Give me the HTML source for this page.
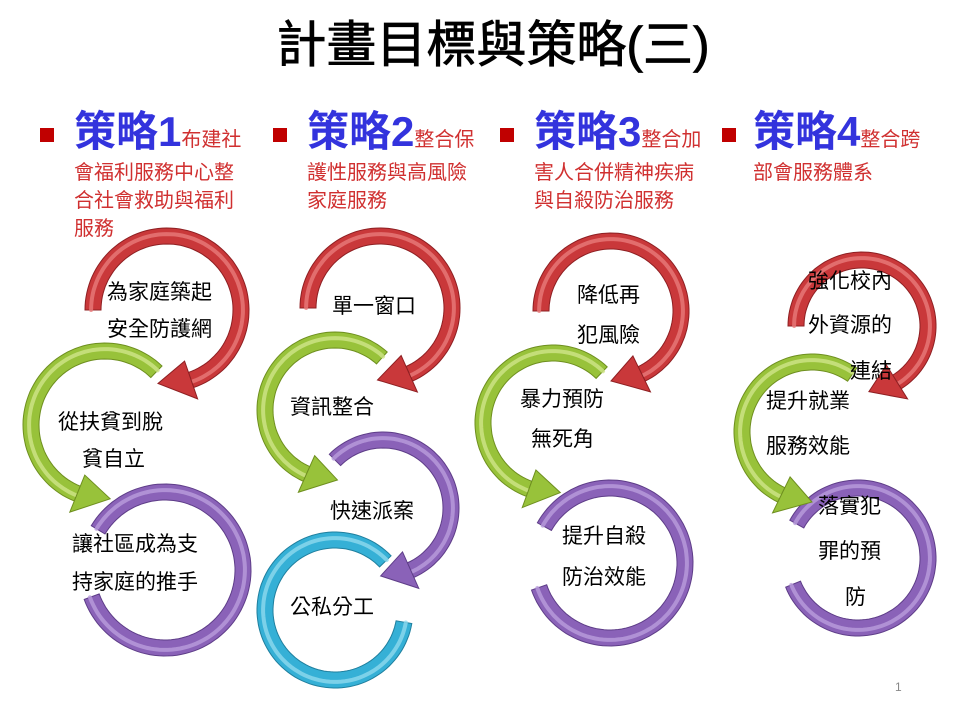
<!DOCTYPE html>
<html><head><meta charset="utf-8">
<style>
html,body{margin:0;padding:0;background:#fff;}
body{width:960px;height:720px;position:relative;overflow:hidden;font-family:"Liberation Sans","Noto Sans CJK TC",sans-serif;}
.t{position:absolute;white-space:nowrap;}
.title{left:0;width:986px;text-align:center;top:15px;font-size:50px;color:#000;line-height:60px;-webkit-text-stroke:0.8px #000;}
.sq{position:absolute;width:14px;height:14px;background:#c00000;top:128px;}
.h{position:absolute;top:108px;white-space:nowrap;color:#3333dd;font-size:42px;line-height:48px;font-weight:bold;}
.h span{color:#d03030;font-size:20px;font-weight:normal;}
.sub{position:absolute;color:#d03030;font-size:20px;line-height:28px;white-space:nowrap;top:159px;}
.n{position:absolute;font-size:21px;line-height:24px;color:#000;white-space:nowrap;}
svg{position:absolute;left:0;top:0;}
</style></head><body>
<svg id="s" width="960" height="720" viewBox="0 0 960 720"></svg>
<div class="t title">計畫目標與策略(三)</div>

<div class="sq" style="left:40px"></div>
<div class="h" style="left:74px">策略1<span>布建社</span></div>
<div class="sub" style="left:74px">會福利服務中心整<br>合社會救助與福利<br>服務</div>

<div class="sq" style="left:273px"></div>
<div class="h" style="left:307px">策略2<span>整合保</span></div>
<div class="sub" style="left:307px">護性服務與高風險<br>家庭服務</div>

<div class="sq" style="left:500px"></div>
<div class="h" style="left:534px">策略3<span>整合加</span></div>
<div class="sub" style="left:534px">害人合併精神疾病<br>與自殺防治服務</div>

<div class="sq" style="left:722px"></div>
<div class="h" style="left:753px">策略4<span>整合跨</span></div>
<div class="sub" style="left:753px">部會服務體系</div>

<div class="n" style="left:107px;top:281px">為家庭築起</div>
<div class="n" style="left:107px;top:318px">安全防護網</div>
<div class="n" style="left:58px;top:411px">從扶貧到脫</div>
<div class="n" style="left:82px;top:448px">貧自立</div>
<div class="n" style="left:72px;top:533px">讓社區成為支</div>
<div class="n" style="left:72px;top:571px">持家庭的推手</div>

<div class="n" style="left:332px;top:295px">單一窗口</div>
<div class="n" style="left:290px;top:396px">資訊整合</div>
<div class="n" style="left:330px;top:500px">快速派案</div>
<div class="n" style="left:290px;top:596px">公私分工</div>

<div class="n" style="left:577px;top:284px">降低再</div>
<div class="n" style="left:577px;top:324px">犯風險</div>
<div class="n" style="left:520px;top:388px">暴力預防</div>
<div class="n" style="left:531px;top:428px">無死角</div>
<div class="n" style="left:562px;top:525px">提升自殺</div>
<div class="n" style="left:562px;top:566px">防治效能</div>

<div class="n" style="left:808px;top:270px">強化校內</div>
<div class="n" style="left:808px;top:314px">外資源的</div>
<div class="n" style="left:850px;top:360px">連結</div>
<div class="n" style="left:766px;top:390px">提升就業</div>
<div class="n" style="left:766px;top:435px">服務效能</div>
<div class="n" style="left:818px;top:495px">落實犯</div>
<div class="n" style="left:818px;top:540px">罪的預</div>
<div class="n" style="left:845px;top:586px">防</div>

<div class="t" style="left:895px;top:680px;font-size:12px;color:#888">1</div>

<script>
var C={red:['#c9383a','#e87a7a','#8e1f22'],green:['#98c23a','#cfe58a','#6e8f1f'],purple:['#8a62b8','#b99ddc','#5e3d88'],blue:['#35b0d6','#8fd9ee','#1f7f9e']};
var svg=document.getElementById('s');var out='';
function P(cx,cy,r,a){a=a*Math.PI/180;return [cx+r*Math.cos(a),cy+r*Math.sin(a)];}
function pts(cx,cy,r,a0,a1){var s=[],n=Math.max(8,Math.ceil(Math.abs(a1-a0)/3));for(var i=0;i<=n;i++){var p=P(cx,cy,r,a0+(a1-a0)*i/n);s.push(p[0].toFixed(1)+','+p[1].toFixed(1));}return s;}
function arrow(cx,cy,R,w,a0,a1,dir,head,col){
  var c=C[col],hd=head?26:0;var aB=a1-dir*hd;
  var o=pts(cx,cy,R+w/2,a0,aB),i=pts(cx,cy,R-w/2,aB,a0);
  out+='<polygon points="'+o.concat(i).join(' ')+'" fill="'+c[0]+'" stroke="'+c[2]+'" stroke-width="1"/>';
  var m=pts(cx,cy,R+w*0.12,a0,aB);
  out+='<polyline points="'+m.join(' ')+'" fill="none" stroke="'+c[1]+'" stroke-width="4" stroke-linecap="round" opacity="0.8"/>';
  if(head){var hw=w*1.25;var b1=P(cx,cy,R+hw,aB),b2=P(cx,cy,R-hw,aB),t=P(cx,cy,R,a1);
    out+='<polygon points="'+b1.join(',')+' '+t.join(',')+' '+b2.join(',')+'" fill="'+c[0]+'" stroke="'+c[2]+'" stroke-width="1"/>';}
}
arrow(335,610,70,16,316,10,-1,false,'blue');
arrow(165,570,78,16,211,520,1,false,'purple');
arrow(383,508,68,16,225,452,1,true,'purple');
arrow(610,563,75,16,209,521,1,false,'purple');
arrow(858,558,70,16,209,518,1,false,'purple');
arrow(105,425,74,16,314,86,-1,true,'green');
arrow(335,410,70,16,312,88,-1,true,'green');
arrow(553,423,70,16,314,84,-1,true,'green');
arrow(812,432,70,16,305,90,-1,true,'green');
arrow(167,310,74,16,180,457,1,true,'red');
arrow(380,308,72,16,180,452,1,true,'red');
arrow(611,311,70,16,180,450,1,true,'red');
arrow(862,326,66,16,180,444,1,true,'red');
svg.innerHTML=out;
</script>
</body></html>
